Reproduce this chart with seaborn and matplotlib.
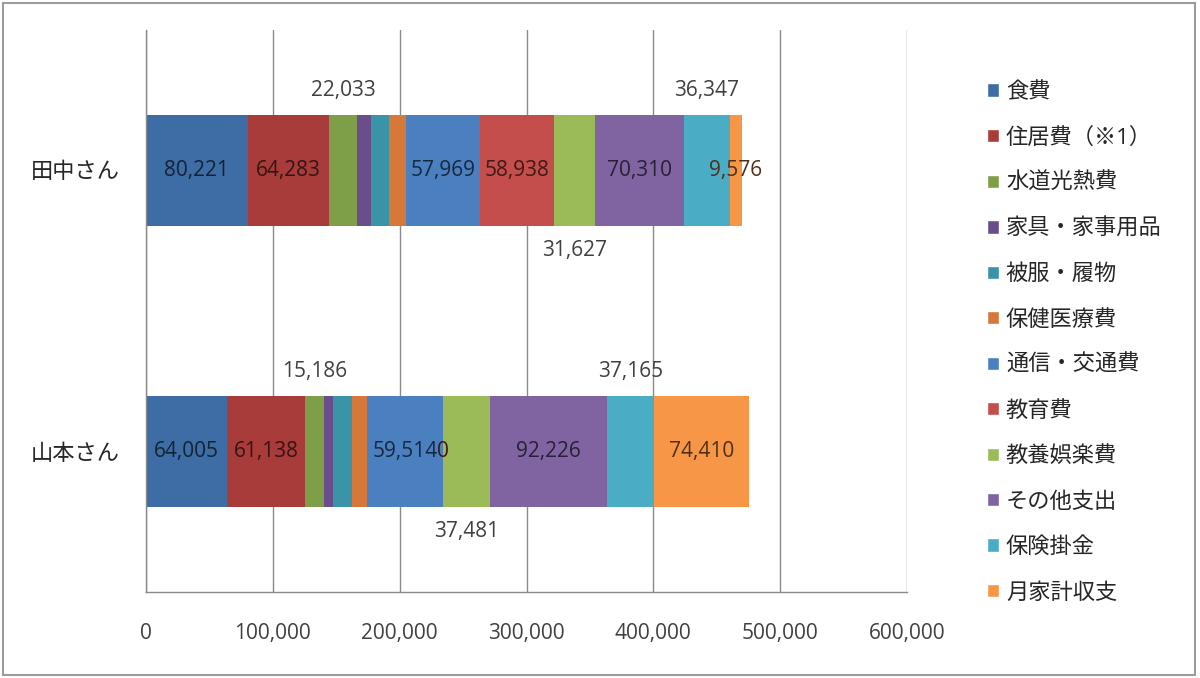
import pandas as pd
import matplotlib.pyplot as plt
import seaborn as sns
from matplotlib.patches import Patch, Rectangle
from matplotlib.ticker import FuncFormatter, FixedLocator
from matplotlib.colors import to_rgb

people = ['田中さん', '山本さん']
items = ['食費', '住居費（※1）', '水道光熱費', '家具・家事用品', '被服・履物', '保健医療費',
         '通信・交通費', '教育費', '教養娯楽費', 'その他支出', '保険掛金', '月家計収支']
tanaka = [80221, 64283, 22033, 10500, 14400, 13700, 57969, 58938, 31627, 70310, 36347, 9576]
yamamoto = [64005, 61138, 15186, 7300, 14500, 12300, 59514, 0, 37481, 92226, 37165, 74410]
x_ticks = [0, 100000, 200000, 300000, 400000, 500000, 600000]

colors = ['#3e6ca4', '#a83c3a', '#7f9e48', '#6a4e8c', '#3a94a8', '#d6783a',
          '#4a7fc0', '#c44e4b', '#9bbb59', '#8064a2', '#4bacc6', '#f79646']
# where each value label goes: in the bar, above it, below it, or nowhere
label_pos = ['in', 'in', 'up', '', '', '', 'in', 'in', 'down', 'in', 'up', 'in']

sns.set_style('white')
plt.rcParams['font.family'] = ['Open Sans', 'Noto Sans CJK JP', 'DejaVu Sans']
plt.rcParams['axes.unicode_minus'] = False

rows = []
for person, vals in zip(people, [tanaka, yamamoto]):
    for item, v in zip(items, vals):
        rows.append({'person': person, 'item': item, 'value': v})
df = pd.DataFrame(rows)
df['cum'] = df.groupby('person')['value'].cumsum()
df['mid'] = df['cum'] - df['value'] / 2

fig = plt.figure(figsize=(12, 6.78), dpi=100)
ax = fig.add_axes([146 / 1200, 1 - 592 / 678, (907 - 146) / 1200, (592 - 30) / 678])

bar_w = 0.395
# stacked bars: draw cumulative totals from the last item back to the first
for item, c in reversed(list(zip(items, colors))):
    sub = df[df['item'] == item]
    sns.barplot(data=sub, x='cum', y='person', order=people, color=c, saturation=1,
                width=bar_w, linewidth=0, errorbar=None, orient='h', ax=ax)

for item, c, pos in zip(items, colors, label_pos):
    if not pos:
        continue
    dark = tuple(v * 0.32 for v in to_rgb(c))
    for i, person in enumerate(people):
        r = df[(df['person'] == person) & (df['item'] == item)].iloc[0]
        txt = f"{int(r['value']):,}"
        if pos == 'in':
            ax.text(r['mid'], i, txt, ha='center', va='center', fontsize=15, color=dark)
        elif pos == 'up':
            ax.annotate(txt, (r['mid'], i - bar_w / 2), xytext=(0, 18), textcoords='offset points',
                        ha='center', va='center', fontsize=15, color='#404040')
        else:
            ax.annotate(txt, (r['mid'], i + bar_w / 2), xytext=(0, -18), textcoords='offset points',
                        ha='center', va='center', fontsize=15, color='#404040')

ax.set_xlim(0, 600000)
ax.set_ylim(1.5, -0.5)
ax.set_xticks(x_ticks)
ax.xaxis.set_major_formatter(FuncFormatter(lambda v, p: f"{int(v):,}"))
ax.set_xlabel('')
ax.set_ylabel('')
ax.grid(axis='x', color='#8a8a8a', lw=1)
ax.set_axisbelow(True)
for s in ['top', 'right']:
    ax.spines[s].set_visible(False)
for s in ['left', 'bottom']:
    ax.spines[s].set_color('#8a8a8a')
    ax.spines[s].set_linewidth(1)

ax.tick_params(axis='x', direction='out', length=6, width=1, color='#8a8a8a',
               labelsize=15, labelcolor='#404040', pad=16)
ax.tick_params(axis='y', which='major', length=0, labelsize=16, labelcolor='#262626', pad=19)
ax.yaxis.set_minor_locator(FixedLocator([-0.5, 0.5, 1.5]))
ax.tick_params(axis='y', which='minor', direction='out', length=6, width=1, color='#8a8a8a')

handles = [Patch(facecolor=c, label=item) for item, c in zip(items, colors)]
fig.legend(handles=handles, loc='upper left', bbox_to_anchor=(987 / 1200, 1 - 82 / 678),
           frameon=False, fontsize=16, labelspacing=1.1, handlelength=0.55, handleheight=0.55,
           handletextpad=0.3, borderpad=0, borderaxespad=0, labelcolor='#262626')

fig.add_artist(Rectangle((3 / 1200, 1 - 675 / 678), 1192 / 1200, 672 / 678, transform=fig.transFigure,
                         fill=False, ec='#9c9c9c', lw=1.5))

plt.savefig('out.png', dpi=100)
